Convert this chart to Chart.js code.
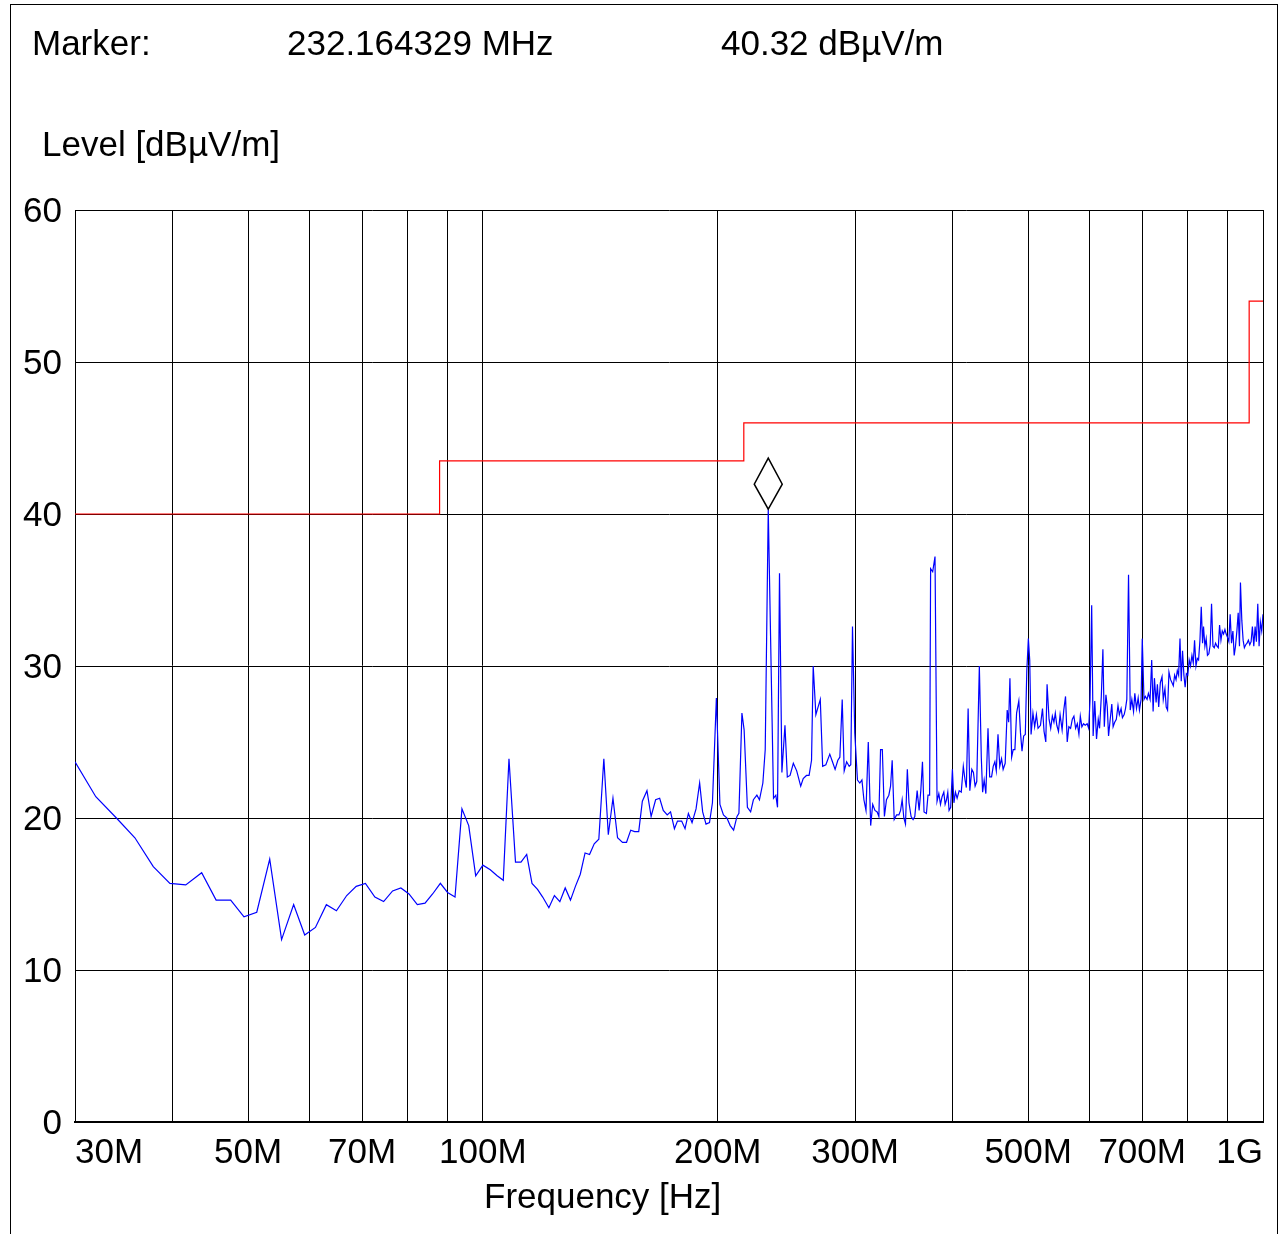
<!DOCTYPE html>
<html lang="en">
<head>
  <meta charset="UTF-8">
  <title>Level vs Frequency</title>
  <script src="https://cdn.jsdelivr.net/npm/chart.js@4.4.1/dist/chart.umd.min.js"></script>
  <style>
    html, body { margin: 0; padding: 0; background: #fff; }
    body { width: 1288px; height: 1234px; position: relative; overflow: hidden;
           font-family: "Liberation Sans", Arial, sans-serif; color: #000; }
    #frame { position: absolute; left: 10px; top: 4px; width: 1266px; height: 1300px; border: 1px solid #000; }
    .txt { position: absolute; font-size: 35px; line-height: 35px; white-space: nowrap; }
    canvas { position: absolute; left: 0; top: 0; }
  </style>
</head>
<body>
  <div id="frame"></div>
  <canvas id="chart" width="1288" height="1234"></canvas>
  <div class="txt" style="left:32px; top:25px">Marker:</div>
  <div class="txt" style="left:287px; top:25px">232.164329 MHz</div>
  <div class="txt" style="left:721px; top:25px">40.32 dBµV/m</div>
  <div class="txt" style="left:42px; top:126px">Level [dBµV/m]</div>
  <div class="txt" style="left:484px; top:1178px">Frequency [Hz]</div>

  <script>
    // measured trace (MHz / dBµV/m)
    const traceFreq = [
      30.0, 31.9, 33.9, 35.8, 37.8, 39.7, 41.6, 43.6, 45.5, 47.5,
      49.4, 51.3, 53.3, 55.2, 57.2, 59.1, 61.0, 63.0, 64.9, 66.9,
      68.8, 70.7, 72.7, 74.6, 76.6, 78.5, 80.4, 82.4, 84.3, 86.2,
      88.2, 90.1, 92.1, 94.0, 95.9, 97.9, 100.0, 102.2, 104.3, 106.2,
      108.0, 110.1, 111.9, 113.8, 115.6, 117.5, 119.3, 121.5, 123.5, 125.5,
      127.5, 129.5, 131.4, 133.3, 135.2, 137.0, 138.9, 140.8, 142.9, 144.8,
      146.8, 148.8, 151.0, 152.8, 154.7, 156.5, 158.4, 160.1, 162.3, 164.3,
      166.5, 168.5, 170.3, 172.3, 174.0, 176.0, 177.6, 179.8, 181.6, 183.4,
      185.4, 187.6, 189.6, 191.3, 193.2, 195.2, 196.9, 199.2, 201.3, 203.4,
      205.5, 207.5, 209.6, 211.7, 212.9, 214.8, 216.2, 218.3, 220.4, 222.2,
      224.5, 226.2, 228.5, 230.1, 232.16, 235.8, 237.4, 238.6, 240.0, 241.7,
      243.9, 245.6, 247.6, 250.0, 252.5, 255.5, 257.4, 259.9, 261.9, 263.8,
      265.1, 267.2, 270.7, 272.6, 275.2, 278.4, 280.6, 282.8, 285.1, 286.8,
      288.8, 290.5, 292.6, 294.8, 296.2, 297.7, 299.7, 302.1, 304.2, 306.1,
      307.9, 309.8, 311.9, 314.1, 316.0, 318.1, 320.2, 321.8, 323.4, 325.1,
      327.1, 329.1, 331.4, 333.1, 334.7, 336.7, 339.1, 341.4, 343.1, 344.7,
      346.4, 348.1, 350.0, 351.7, 353.9, 356.0, 357.8, 360.3, 362.4, 364.2,
      366.0, 367.7, 370.3, 372.0, 373.8, 374.9, 377.2, 379.8, 382.1, 384.1,
      386.0, 387.8, 389.8, 391.3, 392.9, 394.4, 395.9, 397.8, 399.8, 401.6,
      403.4, 405.4, 407.9, 410.4, 412.9, 415.0, 416.6, 418.8, 420.9, 423.4,
      425.4, 427.5, 429.6, 432.9, 435.4, 437.1, 439.1, 441.3, 444.1, 446.3,
      448.8, 451.0, 453.2, 455.1, 457.4, 459.8, 462.2, 464.4, 467.2, 470.0,
      472.0, 473.8, 476.2, 478.4, 480.8, 483.2, 486.4, 488.8, 491.0, 493.4,
      495.8, 498.0, 500.3, 502.3, 504.3, 507.1, 509.7, 512.3, 514.8, 518.5,
      521.6, 524.0, 526.7, 528.7, 531.8, 534.4, 537.0, 539.5, 541.7, 544.1,
      546.8, 549.4, 552.7, 555.4, 558.3, 561.1, 563.8, 566.7, 569.6, 572.3,
      575.2, 578.1, 580.8, 583.2, 585.9, 588.8, 591.7, 595.1, 597.8, 600.2,
      603.1, 605.7, 608.6, 611.8, 614.9, 617.3, 620.5, 623.4, 626.0, 629.0,
      631.5, 633.9, 637.0, 640.0, 642.5, 645.5, 648.6, 651.8, 654.4, 657.8,
      660.4, 663.8, 666.4, 669.0, 672.4, 675.8, 679.0, 682.4, 685.0, 688.4,
      691.8, 694.4, 697.8, 700.2, 703.8, 706.6, 710.2, 713.0, 716.6, 720.0,
      723.0, 725.8, 729.4, 732.2, 735.0, 738.6, 742.3, 745.0, 748.7, 751.5,
      754.5, 757.6, 761.3, 764.5, 767.4, 770.4, 773.6, 776.5, 779.5, 782.7,
      785.6, 788.6, 791.8, 794.7, 797.6, 801.0, 804.2, 807.3, 810.8, 814.0,
      817.1, 820.5, 823.7, 826.8, 830.2, 833.4, 836.6, 839.0, 842.4, 845.6,
      848.8, 852.3, 855.7, 859.1, 862.7, 866.0, 869.4, 873.0, 876.4, 879.7,
      883.3, 886.7, 890.1, 893.7, 897.0, 900.3, 904.1, 907.6, 911.2, 915.0,
      918.5, 922.0, 925.8, 929.4, 932.9, 935.6, 939.4, 943.0, 946.5, 950.3,
      954.0, 957.7, 961.7, 965.5, 969.2, 973.2, 977.0, 980.7, 984.7, 988.5,
      992.2, 996.2, 1000.0
    ];
    const traceLevel = [
      23.7, 21.4, 20.0, 18.7, 16.8, 15.7, 15.6, 16.4, 14.6, 14.6,
      13.5, 13.8, 17.3, 12.0, 14.3, 12.3, 12.8, 14.3, 13.9, 14.9,
      15.5, 15.7, 14.8, 14.5, 15.2, 15.4, 15.0, 14.3, 14.4, 15.0,
      15.7, 15.1, 14.8, 20.6, 19.5, 16.2, 16.9, 16.6, 16.2, 15.9,
      23.9, 17.1, 17.1, 17.6, 15.7, 15.3, 14.8, 14.1, 14.9, 14.5,
      15.4, 14.6, 15.5, 16.3, 17.7, 17.6, 18.3, 18.6, 23.9, 18.9,
      21.3, 18.7, 18.4, 18.4, 19.2, 19.1, 19.1, 21.1, 21.8, 20.1,
      21.2, 21.3, 20.5, 20.2, 20.4, 19.3, 19.8, 19.8, 19.3, 20.3,
      19.7, 20.6, 22.3, 20.4, 19.6, 19.7, 21.0, 27.9, 20.9, 20.2,
      20.0, 19.5, 19.2, 20.1, 20.3, 26.9, 25.8, 20.7, 20.4, 21.2,
      21.5, 21.2, 22.3, 24.5, 40.32, 21.3, 21.5, 20.7, 36.1, 23.0,
      26.1, 22.7, 22.8, 23.6, 23.1, 22.1, 22.6, 22.8, 22.8, 23.8,
      30.0, 26.8, 27.8, 23.4, 23.5, 24.2, 23.7, 23.2, 23.8, 24.0,
      27.8, 23.1, 23.7, 23.4, 23.5, 32.6, 25.6, 22.5, 22.3, 22.5,
      21.2, 20.5, 25.0, 19.5, 20.9, 20.5, 20.4, 20.1, 24.5, 24.5,
      20.1, 21.2, 21.5, 22.1, 23.8, 19.9, 20.2, 20.2, 20.5, 21.2,
      20.0, 19.6, 23.2, 21.0, 20.1, 19.9, 20.1, 21.8, 20.5, 21.8,
      23.7, 20.4, 20.3, 21.5, 21.5, 36.4, 36.2, 37.2, 21.1, 21.6,
      20.9, 21.4, 21.7, 20.9, 21.2, 21.7, 20.5, 20.7, 23.2, 21.0,
      21.7, 21.3, 21.8, 21.7, 23.4, 22.5, 22.0, 27.2, 21.8, 23.2,
      23.0, 22.1, 22.4, 30.0, 24.0, 21.7, 22.5, 21.6, 25.9, 22.7,
      22.7, 23.4, 23.7, 23.1, 25.5, 23.4, 23.9, 23.2, 23.6, 27.1,
      26.3, 29.2, 24.0, 24.5, 24.5, 26.9, 27.7, 25.6, 24.4, 25.4,
      25.5, 29.7, 31.8, 30.4, 25.5, 26.9, 26.0, 26.8, 25.9, 26.1,
      27.2, 25.7, 25.0, 28.8, 26.5, 25.9, 26.7, 26.3, 26.9, 26.1,
      25.7, 26.8, 25.8, 27.1, 28.0, 25.0, 26.0, 25.9, 26.5, 26.7,
      25.9, 26.2, 25.5, 26.7, 26.0, 26.2, 26.1, 26.2, 25.9, 27.8,
      34.0, 25.4, 27.7, 25.2, 26.5, 25.9, 28.0, 31.1, 26.0, 28.1,
      27.3, 25.4, 26.5, 27.5, 26.0, 26.3, 26.5, 27.4, 26.8, 27.2,
      26.6, 26.8, 27.2, 27.8, 36.0, 27.1, 27.8, 27.0, 28.2, 27.2,
      27.9, 27.1, 27.8, 31.8, 27.8, 28.0, 27.8, 28.2, 27.8, 30.4,
      27.0, 29.2, 27.6, 28.8, 27.3, 28.9, 29.3, 27.8, 28.5, 27.3,
      27.1, 29.6, 29.1, 28.9, 28.7, 29.4, 29.1, 29.7, 29.4, 31.8,
      29.0, 31.0, 29.4, 28.6, 29.5, 29.4, 30.4, 30.0, 30.7, 30.2,
      31.7, 30.0, 30.5, 30.4, 31.7, 33.9, 31.5, 32.6, 31.3, 31.8,
      30.7, 30.8, 31.4, 34.1, 31.3, 31.2, 31.5, 31.3, 31.2, 32.7,
      31.7, 32.3, 32.1, 32.4, 32.1, 31.9, 31.6, 33.4, 31.5, 32.3,
      30.7, 31.3, 32.3, 33.5, 31.3, 35.5, 33.0, 31.7, 31.2, 31.4,
      31.5, 31.7, 31.4, 31.6, 32.6, 31.3, 32.6, 31.6, 34.1, 31.3,
      32.9, 32.3, 33.4
    ];

    // limit line corners
    const limitFreq = [30, 88, 88, 216, 216, 960, 960, 1000];
    const limitLevel = [40, 40, 43.5, 43.5, 46, 46, 54, 54];

    // marker
    const markerFreq = 232.164329;
    const markerLevel = 40.32;

    // axes
    const xGridMHz = [30, 40, 50, 60, 70, 80, 90, 100, 200, 300, 400, 500, 600, 700, 800, 900, 1000];
    const xTickMHz = [30, 50, 70, 100, 200, 300, 500, 700, 1000];
    const xTickText = ['30M', '50M', '70M', '100M', '200M', '300M', '500M', '700M', '1G'];

    const FONT = '"Liberation Sans", Arial, sans-serif';

    const markerPlugin = {
      id: 'marker',
      afterDatasetsDraw(chart) {
        const ctx = chart.ctx;
        const x = chart.scales.x.getPixelForValue(markerFreq);
        const y = chart.scales.y.getPixelForValue(markerLevel);
        ctx.save();
        ctx.beginPath();
        ctx.moveTo(x, y);
        ctx.lineTo(x + 14, y - 25);
        ctx.lineTo(x, y - 51);
        ctx.lineTo(x - 14, y - 25);
        ctx.closePath();
        ctx.fillStyle = '#fff';
        ctx.fill();
        ctx.strokeStyle = '#000';
        ctx.lineWidth = 1.5;
        ctx.stroke();
        ctx.restore();
      }
    };

    const xLabelPlugin = {
      id: 'xLabels',
      afterDraw(chart) {
        const ctx = chart.ctx;
        const sx = chart.scales.x;
        ctx.save();
        ctx.font = '35px ' + FONT;
        ctx.fillStyle = '#000';
        ctx.textBaseline = 'alphabetic';
        xTickMHz.forEach((v, i) => {
          const px = sx.getPixelForValue(v);
          if (i === 0) ctx.textAlign = 'left';
          else if (i === xTickMHz.length - 1) ctx.textAlign = 'right';
          else ctx.textAlign = 'center';
          ctx.fillText(xTickText[i], px, chart.chartArea.bottom + 41);
        });
        ctx.restore();
      }
    };

    new Chart(document.getElementById('chart'), {
      type: 'line',
      data: {
        datasets: [
          {
            data: traceFreq.map((f, i) => ({ x: f, y: traceLevel[i] })),
            borderColor: '#0000ff',
            borderWidth: 1.2,
            pointRadius: 0,
            tension: 0
          },
          {
            data: limitFreq.map((f, i) => ({ x: f, y: limitLevel[i] })),
            borderColor: '#ff0000',
            borderWidth: 1.2,
            pointRadius: 0,
            tension: 0
          }
        ]
      },
      options: {
        responsive: false,
        animation: false,
        events: [],
        layout: { padding: { left: 0, top: 210, right: 25, bottom: 112 } },
        plugins: { legend: { display: false }, tooltip: { enabled: false } },
        scales: {
          x: {
            type: 'logarithmic',
            min: 30,
            max: 1000,
            afterBuildTicks: s => { s.ticks = xGridMHz.map(v => ({ value: v })); },
            afterFit: s => { s.height = 0; },
            ticks: { display: false },
            grid: { color: '#000', lineWidth: 1, drawTicks: false },
            border: { display: true, color: '#000', width: 2 }
          },
          y: {
            min: 0,
            max: 60,
            afterFit: s => { s.width = 75; },
            ticks: { stepSize: 10, padding: 13, labelOffset: 2, color: '#000', font: { size: 35, family: FONT } },
            grid: { color: '#000', lineWidth: 1, drawTicks: false },
            border: { display: true, color: '#000', width: 1 }
          }
        }
      },
      plugins: [markerPlugin, xLabelPlugin]
    });
  </script>
</body>
</html>
